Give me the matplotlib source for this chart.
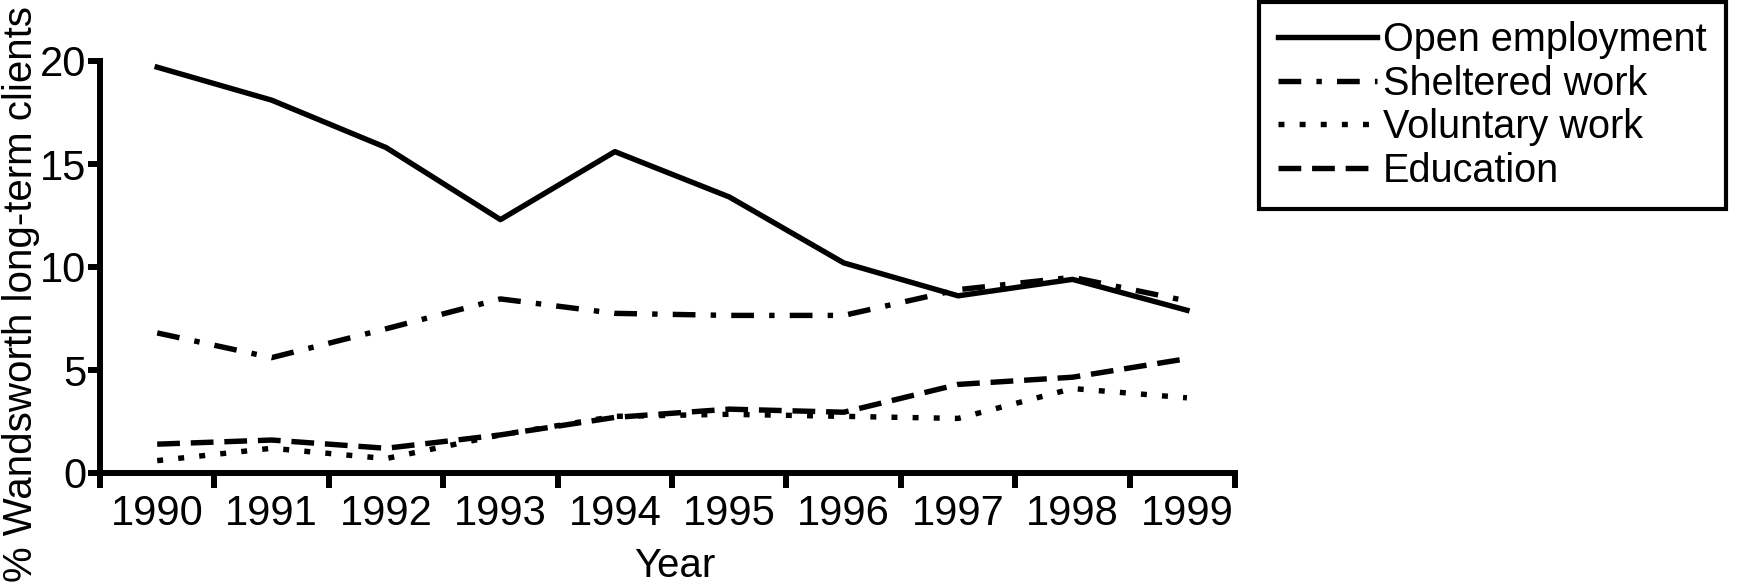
import matplotlib
matplotlib.use('Agg')
import matplotlib.pyplot as plt

plt.rcParams['font.family'] = ['Liberation Sans', 'DejaVu Sans']

years = ['1990', '1991', '1992', '1993', '1994', '1995', '1996', '1997', '1998', '1999']
open_employment = [19.7, 18.1, 15.8, 12.3, 15.6, 13.4, 10.2, 8.6, 9.4, 7.9]
sheltered_work = [6.8, 5.6, 7.0, 8.45, 7.75, 7.65, 7.65, 8.9, 9.5, 8.35]
voluntary_work = [0.6, 1.2, 0.7, 1.85, 2.75, 2.85, 2.75, 2.65, 4.1, 3.65]
education = [1.4, 1.6, 1.2, 1.85, 2.7, 3.1, 2.95, 4.3, 4.65, 5.55]

fs = 30
lw = 3.9

fig = plt.figure(figsize=(17.39, 5.87), dpi=100)
ax = fig.add_axes([100 / 1739, 114 / 587, 1135 / 1739, 412 / 587])

x = list(range(len(years)))
ax.plot(x, open_employment, color='black', lw=lw, linestyle='-', label='Open employment')
ax.plot(x, sheltered_work, color='black', lw=lw, linestyle=(0, (4.2, 2.8, 1, 2.8)), label='Sheltered work')
ax.plot(x, voluntary_work, color='black', lw=lw, linestyle=(0, (1.1, 2.8)), label='Voluntary work')
ax.plot(x, education, color='black', lw=lw, linestyle=(0, (4.2, 2)), label='Education')

ax.set_xlim(-0.5, 9.42)
ax.set_ylim(0, 20)

# ticks sit between the years, labels sit on them
ax.set_xticks([i - 0.5 for i in range(10)] + [9.42])
ax.set_xticklabels([])
ax.set_xticks(x, minor=True)
ax.set_xticklabels(years, minor=True, fontsize=fs)
ax.tick_params(axis='x', which='major', length=11, width=4.3, direction='out')
ax.tick_params(axis='x', which='minor', length=0, pad=15)

ax.set_yticks([0, 5, 10, 15, 20])
ax.set_yticklabels(['0', '5', '10', '15', '20'], fontsize=fs)
ax.tick_params(axis='y', length=9, width=4.3, pad=1)

for side in ['top', 'right']:
    ax.spines[side].set_visible(False)
for side in ['left', 'bottom']:
    ax.spines[side].set_linewidth(4.3)

fig.text(675 / 1739, 1 - 566 / 587, 'Year', fontsize=29, ha='center', va='center')
fig.text(21 / 1739, 0.5, '% Wandsworth long-term clients', fontsize=29,
         rotation=90, ha='center', va='center')

leg = ax.legend(loc='upper left', bbox_to_anchor=(1259 / 1739, 585 / 587),
                bbox_transform=fig.transFigure, borderaxespad=0, fontsize=28.5,
                handlelength=2.5, handletextpad=0.15, labelspacing=0.14,
                borderpad=0.48, fancybox=False, framealpha=1, edgecolor='black')
leg.get_frame().set_linewidth(3)

fig.savefig('out.png', dpi=100)
